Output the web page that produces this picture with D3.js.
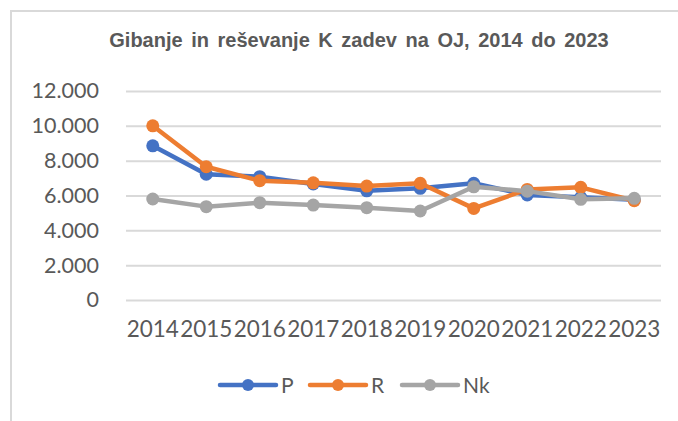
<!DOCTYPE html>
<html>
<head>
<meta charset="utf-8">
<script src="https://cdn.jsdelivr.net/npm/d3@7/dist/d3.min.js"></script>
<style>
	body { margin: 0; background: #fff; }
	text { font-family: Lato, "Open Sans", sans-serif; fill: #595959; }
	.title { font-family: "Liberation Sans", Arial, sans-serif; font-weight: bold; }
	.grid line { stroke: #d9d9d9; stroke-width: 2px; }
</style>
</head>
<body>
<svg width="678" height="421"></svg>
<script>

	// data
	var years = ["2014", "2015", "2016", "2017", "2018", "2019", "2020", "2021", "2022", "2023"];
	var valuesP = [8850, 7220, 7080, 6660, 6270, 6410, 6700, 6030, 5900, 5750];
	var valuesR = [10000, 7650, 6850, 6730, 6540, 6700, 5260, 6350, 6470, 5700];
	var valuesNk = [5800, 5360, 5590, 5450, 5300, 5110, 6500, 6250, 5780, 5840];
	var yTicks = [0, 2000, 4000, 6000, 8000, 10000, 12000];

	var series = [
		{ name: "P", values: valuesP, color: "#4472C4" },
		{ name: "R", values: valuesR, color: "#ED7D31" },
		{ name: "Nk", values: valuesNk, color: "#A5A5A5" }
	];

	var svg = d3.select("svg");

	// chart frame (only top and left edge are inside the picture)
	svg.append("rect")
		.attr("x", 11).attr("y", 11)
		.attr("width", 700).attr("height", 430)
		.attr("fill", "none")
		.attr("stroke", "#d9d9d9")
		.attr("stroke-width", 2);

	svg.append("text")
		.attr("class", "title")
		.attr("x", 359).attr("y", 47)
		.attr("text-anchor", "middle")
		.style("font-size", "20px")
		.style("word-spacing", "3px")
		.text("Gibanje in reševanje K zadev na OJ, 2014 do 2023");

	var x = d3.scaleBand().domain(years).range([126, 661]).padding(0);
	var y = d3.scaleLinear().domain([0, 12000]).range([300, 91]);

	var sl = d3.formatLocale({ decimal: ",", thousands: ".", grouping: [3], currency: ["", " €"] });
	var fmt = sl.format(",");

	// gridlines + y labels
	var yAxis = svg.append("g")
		.attr("class", "grid")
		.attr("transform", "translate(126,0)")
		.call(d3.axisLeft(y).tickValues(yTicks).tickFormat(fmt).tickSize(-535).tickPadding(27));
	yAxis.select(".domain").remove();
	yAxis.selectAll("text").style("font-size", "21.5px").attr("fill", "#595959");

	var xAxis = svg.append("g")
		.attr("transform", "translate(0,300)")
		.call(d3.axisBottom(x).tickSize(0).tickPadding(21));
	xAxis.select(".domain").remove();
	xAxis.selectAll("text").style("font-size", "22.5px").attr("fill", "#595959");

	var line = d3.line()
		.x(function(d, i) { return x(years[i]) + x.bandwidth() / 2; })
		.y(function(d) { return y(d); });

	series.forEach(function(s) {
		var g = svg.append("g");
		g.append("path")
			.attr("d", line(s.values))
			.attr("fill", "none")
			.attr("stroke", s.color)
			.attr("stroke-width", 4.5)
			.attr("stroke-linejoin", "round")
			.attr("stroke-linecap", "round");
		g.selectAll("circle")
			.data(s.values)
			.enter().append("circle")
			.attr("cx", function(d, i) { return x(years[i]) + x.bandwidth() / 2; })
			.attr("cy", function(d) { return y(d); })
			.attr("r", 6.5)
			.attr("fill", s.color);
	});

	// legend
	var legendX = [220, 310, 402];
	var legend = svg.append("g").selectAll("g")
		.data(series)
		.enter().append("g")
		.attr("transform", function(d, i) { return "translate(" + legendX[i] + ",385)"; });
	legend.append("line")
		.attr("x1", 0).attr("x2", 56)
		.attr("stroke", function(d) { return d.color; })
		.attr("stroke-width", 4.5)
		.attr("stroke-linecap", "round");
	legend.append("circle")
		.attr("cx", 28).attr("r", 6)
		.attr("fill", function(d) { return d.color; });
	legend.append("text")
		.attr("x", 61).attr("y", 7.5)
		.style("font-size", "21px")
		.text(function(d) { return d.name; });

</script>
</body>
</html>
